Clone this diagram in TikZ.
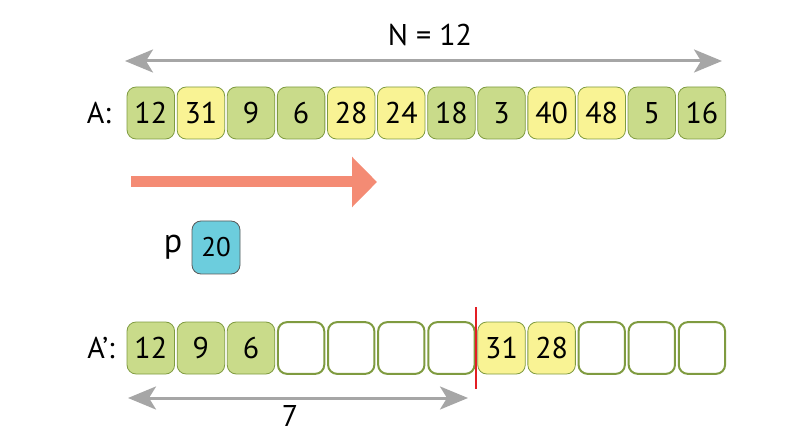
\documentclass[tikz,border=0pt]{standalone}
\usepackage{fontspec}
\setmainfont{PT Sans}
\usetikzlibrary{arrows.meta,positioning}
\definecolor{cellgreen}{RGB}{201,219,138}
\definecolor{cellyellow}{RGB}{249,243,148}
\definecolor{cellline}{RGB}{127,155,64}
\definecolor{pivotblue}{RGB}{108,205,221}
\definecolor{spangray}{RGB}{166,166,166}
\definecolor{scanred}{RGB}{244,139,116}
\definecolor{splitred}{RGB}{227,30,36}

\begin{document}
\begin{tikzpicture}[x=1pt, y=-1pt,
        cell/.style={rounded corners=9pt, inner sep=0pt,
                     minimum width=47.5pt, minimum height=52pt,
                     font=\fontsize{30}{32}\selectfont},
        gcell/.style={cell, draw=cellline, fill=cellgreen, line width=0.8pt},
        ycell/.style={cell, draw=cellline, fill=cellyellow, line width=0.8pt},
        ecell/.style={cell, draw=cellline, line width=2pt,
                      minimum width=46.3pt, minimum height=51.7pt},
        pcell/.style={cell, draw=black!65, fill=pivotblue, line width=0.8pt,
                      minimum width=48pt, minimum height=53pt,
                      font=\fontsize{27}{29}\selectfont},
        lbl/.style={font=\fontsize{30}{32}\selectfont, inner sep=0pt},
        span/.style={{Stealth[length=28pt,width=23pt,inset=7pt]}-{Stealth[length=28pt,width=23pt,inset=7pt]},
                     line width=3pt, spangray},
        scan/.style={-{Triangle[length=25pt,width=49pt]}, line width=11pt, scanred}
      ]
        \useasboundingbox (0,0) rectangle (802,435);

        % input array A
        \node[lbl] (alab) at (99,113) {A:};
        \foreach \v/\st [count=\i] in {12/gcell,31/ycell,9/gcell,6/gcell,28/ycell,24/ycell,
                                       18/gcell,3/gcell,40/ycell,48/ycell,5/gcell,16/gcell}
          \node[\st] (a\i) at ({150.8+50.1*(\i-1)},113) {\v};

        % length of A
        \coordinate (nl) at (125,61);
        \coordinate (nr) at (722,61);
        \draw[span] (nl) -- (nr);
        \node[lbl] (ntext) at (430,35) {N = 12};

        % scan direction
        \coordinate (ml) at (131,182);
        \coordinate (mr) at (377,182);
        \draw[scan] (ml) -- (mr);

        % pivot
        \node[pcell] (piv) at (216,247.5) {20};
        \node[lbl, anchor=base, font=\fontsize{34}{36}\selectfont] (plab) at (173,253) {p};

        % output array A'
        \node[lbl] (blab) at (101,348) {A’:};
        \foreach \v/\st [count=\i] in {12/gcell,9/gcell,6/gcell,{}/ecell,{}/ecell,{}/ecell,
                                       {}/ecell,31/ycell,28/ycell,{}/ecell,{}/ecell,{}/ecell}
          \node[\st] (b\i) at ({150.8+50.1*(\i-1)},348) {\v};

        % split marker
        \coordinate (st) at (476,307);
        \coordinate (sb) at (476,389);
        \draw[splitred, line width=2.5pt] (st) -- (sb);

        % count of small elements
        \coordinate (sl) at (128,398);
        \coordinate (sr) at (468,398);
        \draw[span] (sl) -- (sr);
        \node[lbl] (seven) at (290,416) {7};
      \end{tikzpicture}
\end{document}
